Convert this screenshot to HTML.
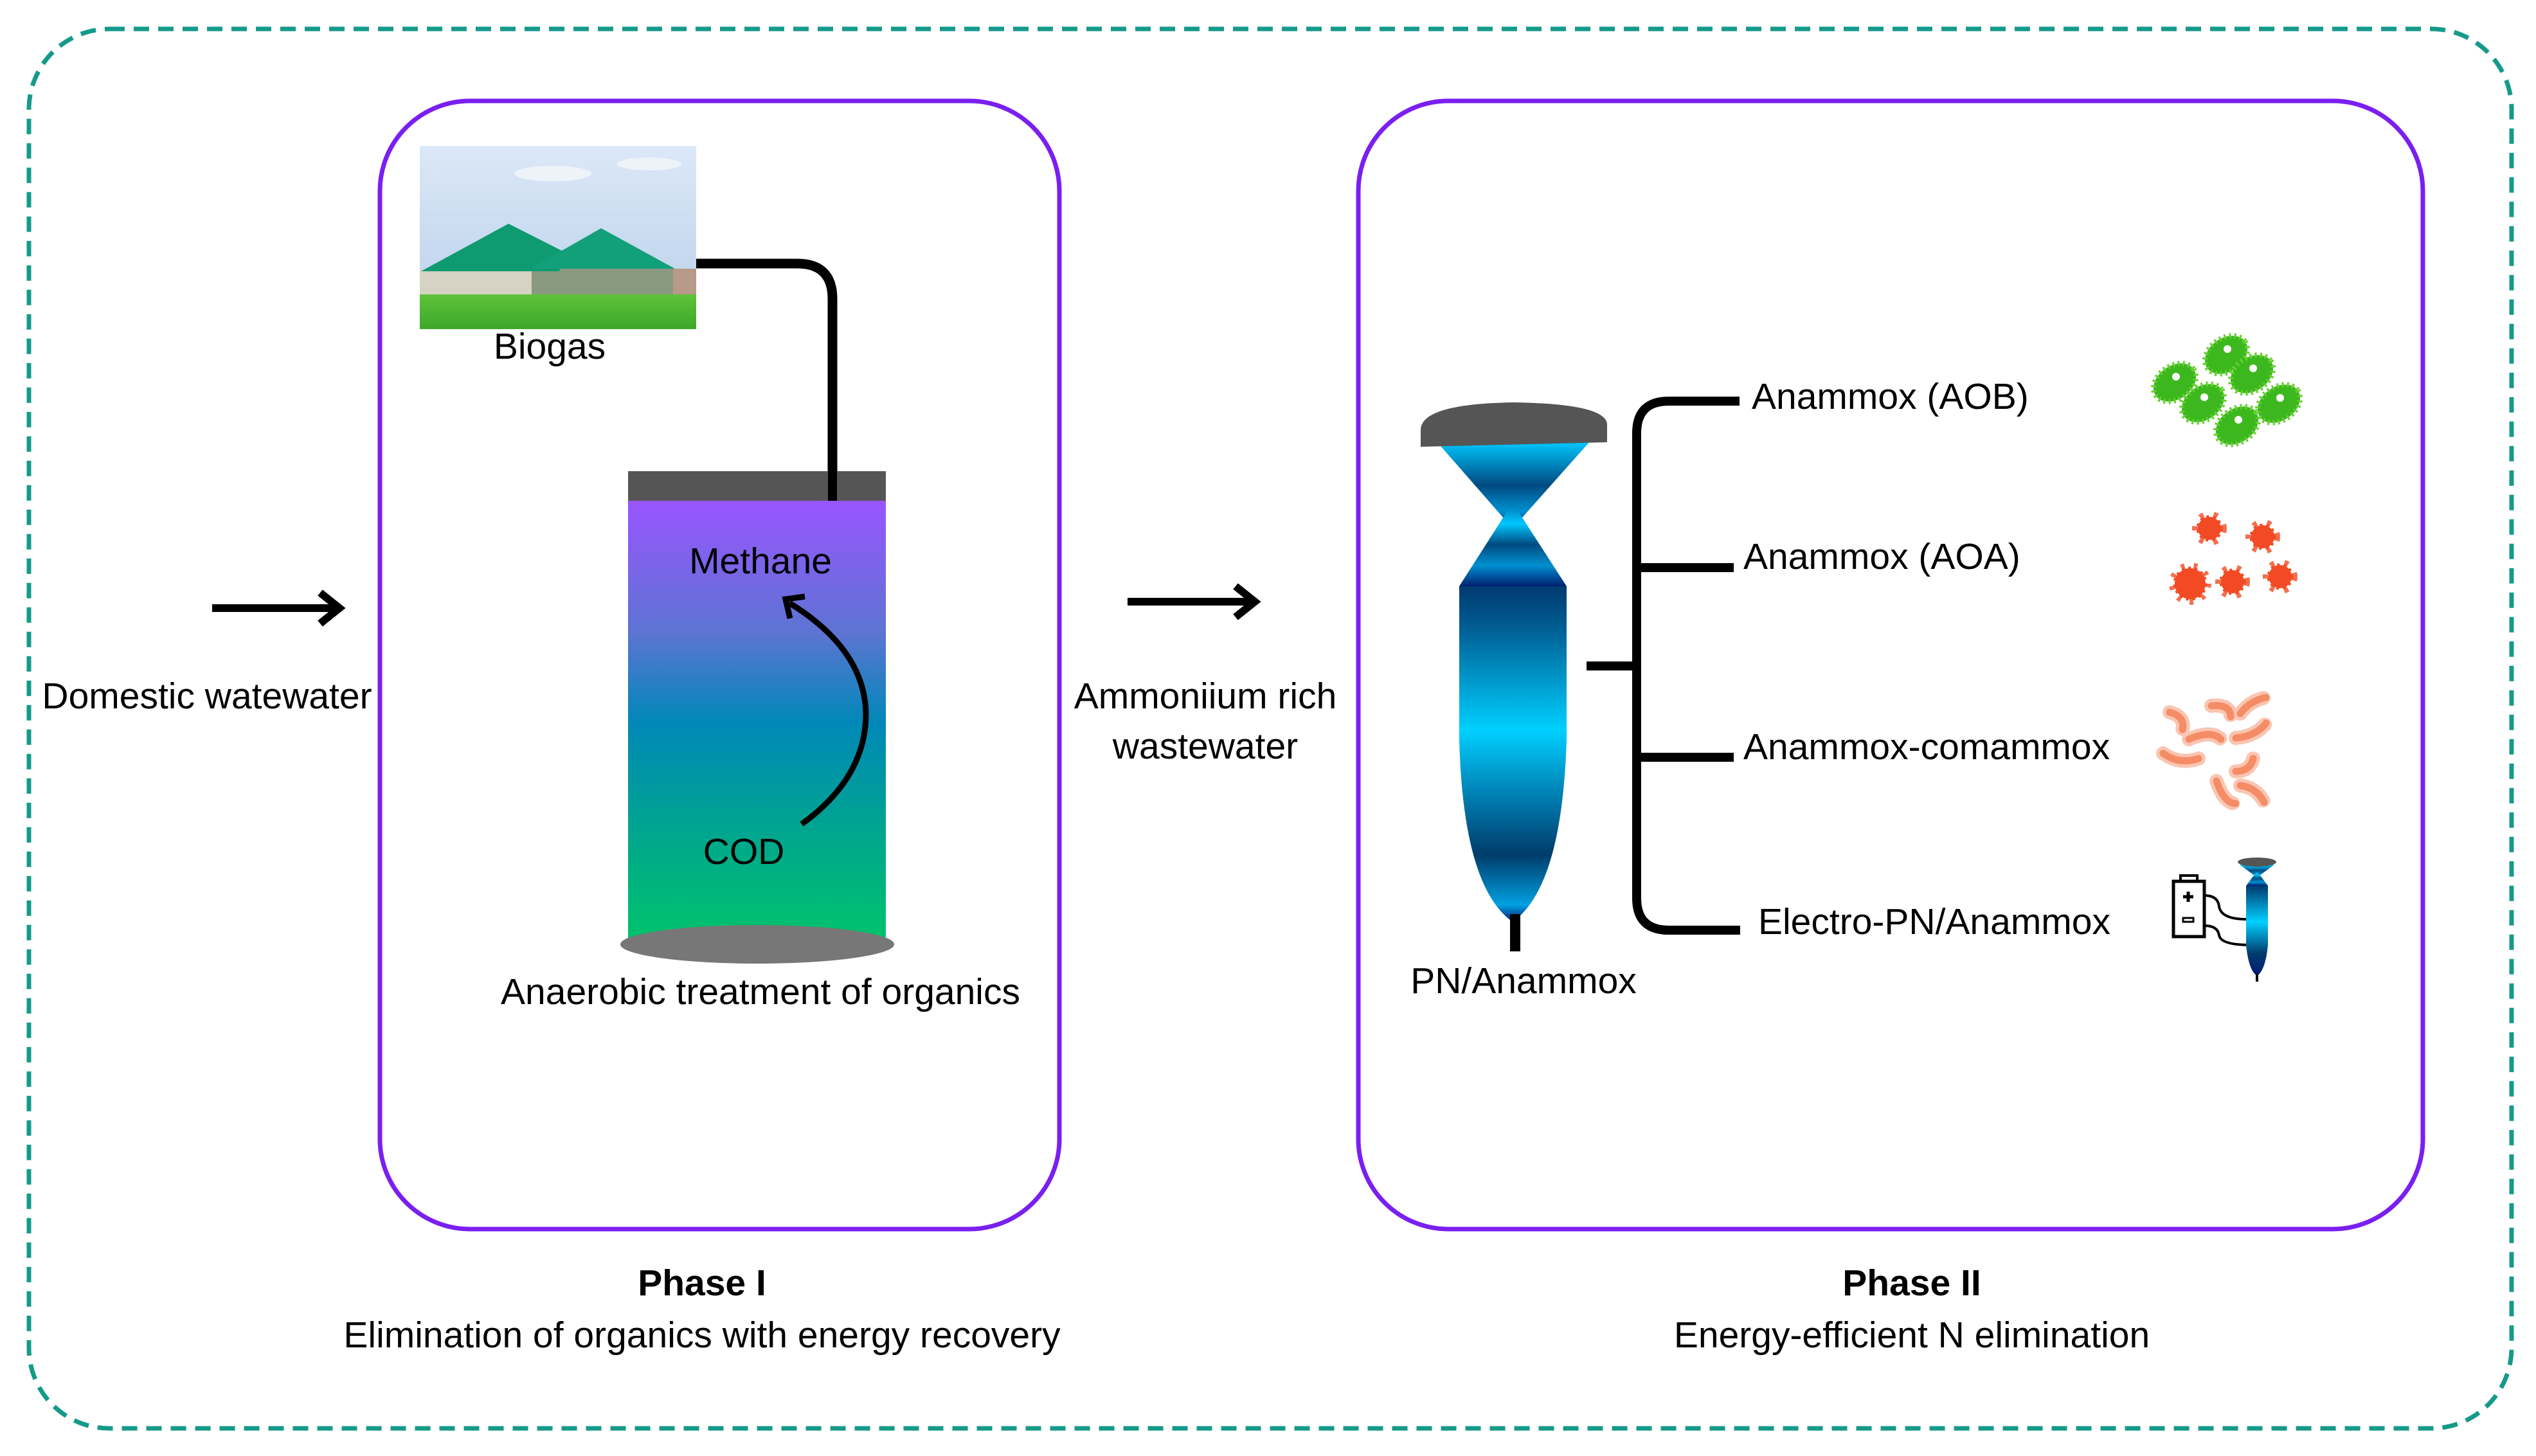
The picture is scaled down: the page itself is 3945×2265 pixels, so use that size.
<!DOCTYPE html>
<html><head><meta charset="utf-8"><style>
html,body{margin:0;padding:0;background:#fff}
svg{display:block}
text{font-family:"Liberation Sans",Arial,sans-serif;fill:#000}
</style></head><body>
<svg width="3945" height="2265" viewBox="0 0 3945 2265" xmlns="http://www.w3.org/2000/svg">
<defs>
<linearGradient id="tank" x1="0" y1="0" x2="0" y2="1">
<stop offset="0" stop-color="#9955ff"/><stop offset="0.3" stop-color="#5c74d2"/>
<stop offset="0.5" stop-color="#0088b8"/><stop offset="0.75" stop-color="#00a68e"/>
<stop offset="1" stop-color="#00c46a"/></linearGradient>
<linearGradient id="body" gradientUnits="userSpaceOnUse" x1="0" y1="912" x2="0" y2="1434">
<stop offset="0" stop-color="#003a70"/><stop offset="0.12" stop-color="#005c92"/>
<stop offset="0.43" stop-color="#00d0ff"/><stop offset="0.6" stop-color="#0088bb"/>
<stop offset="0.8" stop-color="#003c6c"/><stop offset="0.88" stop-color="#0070a8"/>
<stop offset="0.95" stop-color="#00a0e0"/><stop offset="1" stop-color="#001a78"/></linearGradient>
<linearGradient id="body2" x1="0" y1="0" x2="0" y2="1">
<stop offset="0" stop-color="#003a70"/><stop offset="0.4" stop-color="#00d0ff"/>
<stop offset="0.75" stop-color="#003c6c"/><stop offset="1" stop-color="#001a78"/></linearGradient>
<linearGradient id="cone1" x1="0" y1="0" x2="0" y2="1">
<stop offset="0" stop-color="#00c8ff"/><stop offset="0.5" stop-color="#004a80"/><stop offset="0.8" stop-color="#0090d0"/><stop offset="1" stop-color="#00286e"/></linearGradient>
<linearGradient id="cone2" x1="0" y1="0" x2="0" y2="1">
<stop offset="0" stop-color="#0070b0"/><stop offset="0.25" stop-color="#00c8ff"/><stop offset="0.5" stop-color="#004a80"/><stop offset="0.75" stop-color="#0090d0"/><stop offset="1" stop-color="#001e70"/></linearGradient>
<linearGradient id="sky" x1="0" y1="0" x2="0" y2="1">
<stop offset="0" stop-color="#dce8f8"/><stop offset="1" stop-color="#b8cfe8"/></linearGradient>
<linearGradient id="grass" x1="0" y1="0" x2="0" y2="1">
<stop offset="0" stop-color="#5fc23a"/><stop offset="1" stop-color="#3da82a"/></linearGradient>
</defs>

<rect x="45" y="45" width="3862" height="2177" rx="125" fill="none" stroke="#159a8a" stroke-width="7" stroke-dasharray="24 14"/>
<rect x="591" y="157" width="1057" height="1755" rx="140" fill="none" stroke="#7a1ff0" stroke-width="7"/>
<rect x="2113" y="157" width="1656" height="1755" rx="140" fill="none" stroke="#7a1ff0" stroke-width="7"/>

<rect x="653" y="227" width="430" height="285" fill="url(#sky)"/>
<ellipse cx="860" cy="270" rx="60" ry="12" fill="#eef3fa"/>
<ellipse cx="1010" cy="255" rx="50" ry="10" fill="#eef3fa"/>
<rect x="653" y="420" width="185" height="40" fill="#d6d2c4"/>
<rect x="827" y="416" width="220" height="44" fill="#8a9a80"/>
<polygon points="655,422 791,348 880,393 870,422" fill="#0f9a72"/>
<polygon points="825,418 935,355 1050,418" fill="#12a07a"/>
<rect x="1047" y="418" width="36" height="42" fill="#b89a88"/>
<rect x="653" y="458" width="430" height="54" fill="url(#grass)"/>
<text x="855" y="558" font-size="57" text-anchor="middle">Biogas</text>

<path d="M1083,410 H1240 Q1295,410 1295,465 V740" fill="none" stroke="#000" stroke-width="15"/>

<rect x="977" y="779" width="401" height="690" fill="url(#tank)"/>
<rect x="977" y="733" width="401" height="46" fill="#555"/>
<rect x="1288" y="700" width="14" height="79" fill="#000"/>
<ellipse cx="1178" cy="1469" rx="213" ry="30" fill="#777"/>
<text x="1183" y="892" font-size="57" text-anchor="middle">Methane</text>
<text x="1157" y="1344" font-size="57" text-anchor="middle">COD</text>
<path d="M1247,1282 Q1347,1210 1347,1110 Q1345,1010 1228,938" fill="none" stroke="#000" stroke-width="9"/>
<polyline points="1229,962 1222,932 1252,928" fill="none" stroke="#000" stroke-width="9"/>
<text x="1183" y="1562" font-size="57" text-anchor="middle">Anaerobic treatment of organics</text>

<line x1="330" y1="946" x2="525" y2="946" stroke="#000" stroke-width="12"/>
<polyline points="498,922 528,946 498,970" fill="none" stroke="#000" stroke-width="12"/>
<text x="322" y="1102" font-size="57" text-anchor="middle">Domestic watewater</text>

<line x1="1754" y1="936" x2="1948" y2="936" stroke="#000" stroke-width="12"/>
<polyline points="1922,912 1952,936 1922,960" fill="none" stroke="#000" stroke-width="12"/>
<text x="1875" y="1102" font-size="57" text-anchor="middle">Ammoniium rich</text>
<text x="1875" y="1180" font-size="57" text-anchor="middle">wastewater</text>

<text x="1092" y="2015" font-size="57" font-weight="bold" text-anchor="middle">Phase I</text>
<text x="1092" y="2096" font-size="57" text-anchor="middle">Elimination of organics with energy recovery</text>
<text x="2974" y="2015" font-size="57" font-weight="bold" text-anchor="middle">Phase II</text>
<text x="2974" y="2096" font-size="57" text-anchor="middle">Energy-efficient N elimination</text>

<polygon points="2235,687 2473,687 2353,822" fill="url(#cone1)"/>
<polygon points="2353,782 2437,912 2270,912" fill="url(#cone2)"/>
<path d="M2270,912 H2437 V1150 Q2430,1380 2353,1434 Q2276,1380 2270,1150 Z" fill="url(#body)"/>
<path d="M2210,668 Q2212,628 2355,626 Q2498,628 2500,660 L2500,688 L2210,695 Z" fill="#555"/>
<rect x="2349" y="1422" width="16" height="58" fill="#000"/>
<text x="2370" y="1545" font-size="57" text-anchor="middle">PN/Anammox</text>

<line x1="2468" y1="1036" x2="2546" y2="1036" stroke="#000" stroke-width="14"/>
<path d="M2706,624 H2596 Q2546,624 2546,674 V1397 Q2546,1447 2596,1447 H2707" fill="none" stroke="#000" stroke-width="14"/>
<line x1="2546" y1="883" x2="2697" y2="883" stroke="#000" stroke-width="14"/>
<line x1="2546" y1="1178" x2="2697" y2="1178" stroke="#000" stroke-width="14"/>
<text x="2725" y="636" font-size="57">Anammox (AOB)</text>
<text x="2712" y="885" font-size="57">Anammox (AOA)</text>
<text x="2712" y="1181" font-size="57">Anammox-comammox</text>
<text x="2735" y="1453" font-size="57">Electro-PN/Anammox</text>

<g fill="#3cb81e" stroke="#66d030" stroke-width="8" stroke-dasharray="3 5">
<ellipse cx="3383" cy="595" rx="36" ry="26" transform="rotate(-35 3383 595)"/>
<ellipse cx="3463" cy="552" rx="36" ry="26" transform="rotate(-35 3463 552)"/>
<ellipse cx="3503" cy="582" rx="36" ry="26" transform="rotate(-35 3503 582)"/>
<ellipse cx="3427" cy="627" rx="36" ry="26" transform="rotate(-35 3427 627)"/>
<ellipse cx="3480" cy="662" rx="36" ry="26" transform="rotate(-35 3480 662)"/>
<ellipse cx="3545" cy="628" rx="36" ry="26" transform="rotate(-35 3545 628)"/>
</g>
<g fill="#fff"><circle cx="3385" cy="586" r="6"/><circle cx="3465" cy="543" r="6"/><circle cx="3505" cy="573" r="6"/><circle cx="3429" cy="618" r="6"/><circle cx="3482" cy="653" r="6"/><circle cx="3547" cy="619" r="6"/></g>

<g fill="#f24a24" stroke="#f24a24" stroke-width="5" stroke-dasharray="4 6">
<circle cx="3437" cy="822" r="18"/><circle cx="3520" cy="835" r="18"/>
<circle cx="3407" cy="908" r="24"/><circle cx="3473" cy="905" r="18"/><circle cx="3547" cy="897" r="18"/>
</g>
<g fill="none" stroke="#f24a24" stroke-width="26" stroke-dasharray="4 10" opacity="0.8">
<circle cx="3437" cy="822" r="14"/><circle cx="3520" cy="835" r="14"/>
<circle cx="3407" cy="908" r="20"/><circle cx="3473" cy="905" r="14"/><circle cx="3547" cy="897" r="14"/>
</g>

<g fill="none" stroke="#f07040" stroke-width="11" stroke-linecap="round">
<path d="M3375,1108 Q3400,1115 3395,1135"/>
<path d="M3440,1098 Q3470,1095 3470,1115"/>
<path d="M3485,1110 Q3500,1090 3525,1085"/>
<path d="M3405,1150 Q3440,1135 3455,1150"/>
<path d="M3478,1148 Q3510,1145 3525,1125"/>
<path d="M3365,1172 Q3390,1190 3420,1180"/>
<path d="M3478,1200 Q3500,1200 3505,1180"/>
<path d="M3448,1215 Q3460,1250 3478,1250"/>
<path d="M3485,1222 Q3510,1225 3522,1248"/>
</g>
<g fill="none" stroke="#f8a080" stroke-width="22" stroke-dasharray="2 5" stroke-linecap="round" opacity="0.6">
<path d="M3375,1108 Q3400,1115 3395,1135"/>
<path d="M3440,1098 Q3470,1095 3470,1115"/>
<path d="M3485,1110 Q3500,1090 3525,1085"/>
<path d="M3405,1150 Q3440,1135 3455,1150"/>
<path d="M3478,1148 Q3510,1145 3525,1125"/>
<path d="M3365,1172 Q3390,1190 3420,1180"/>
<path d="M3478,1200 Q3500,1200 3505,1180"/>
<path d="M3448,1215 Q3460,1250 3478,1250"/>
<path d="M3485,1222 Q3510,1225 3522,1248"/>
</g>

<rect x="3381" y="1371" width="48" height="86" fill="#fff" stroke="#000" stroke-width="5"/>
<rect x="3392" y="1362" width="26" height="9" fill="none" stroke="#000" stroke-width="4"/>
<path d="M3396,1395 h16 M3404,1387 v16" stroke="#000" stroke-width="5"/>
<rect x="3396" y="1428" width="16" height="6" fill="none" stroke="#000" stroke-width="3"/>
<path d="M3429,1393 Q3450,1393 3452,1410 Q3455,1430 3495,1430" fill="none" stroke="#000" stroke-width="4"/>
<path d="M3429,1440 Q3450,1440 3452,1455 Q3455,1470 3500,1470" fill="none" stroke="#000" stroke-width="4"/>
<polygon points="3484,1345 3538,1345 3511,1365" fill="url(#cone1)"/>
<polygon points="3511,1355 3528,1378 3494,1378" fill="url(#cone2)"/>
<path d="M3494,1378 H3528 V1470 Q3524,1510 3511,1518 Q3498,1510 3494,1470 Z" fill="url(#body2)"/>
<ellipse cx="3511" cy="1341" rx="30" ry="7" fill="#555"/>
<rect x="3509" y="1515" width="4" height="12" fill="#000"/>
</svg>
</body></html>
